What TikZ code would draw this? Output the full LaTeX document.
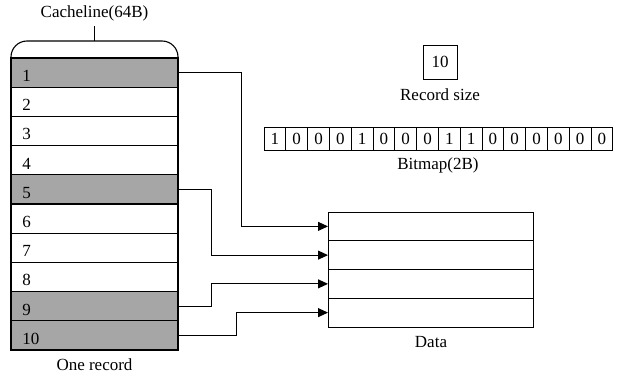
\documentclass[tikz,border=0pt]{standalone}
\usepackage{fontspec}
\setmainfont{Liberation Serif}
\usetikzlibrary{arrows.meta}
\definecolor{rowgray}{RGB}{166,166,166}
\begin{document}
\begin{tikzpicture}[x=1pt,y=-1pt,
  font=\fontsize{17}{20}\selectfont,
  line width=0.9pt,
  recrow/.style={draw, line width=1.1pt, minimum width=167pt, minimum height=29.2pt,
                 anchor=north west, inner sep=0pt, outer sep=0pt},
  datarow/.style={draw, minimum width=205pt, minimum height=28.75pt,
                  anchor=north west, inner sep=0pt, outer sep=0pt},
  bitcell/.style={draw, minimum width=21.8pt, minimum height=23pt,
                  anchor=north west, inner sep=0pt, outer sep=0pt},
  arr/.style={-{Triangle[length=10pt,width=9pt]}}]
\useasboundingbox (0,0) rectangle (622,377);

% one record: ten rows of the cache line
\foreach \i/\f in {1/rowgray,2/white,3/white,4/white,5/rowgray,
                   6/white,7/white,8/white,9/rowgray,10/rowgray}{
  \node[recrow, fill=\f] (r\i) at (11,{58+29.2*(\i-1)}) {};
  \node[anchor=base west, inner sep=0pt] (n\i) at (22,{58+29.2*(\i-0.5)+9}) {\i};
}

% rounded cap over the cache line and its label
\draw[line width=1.1pt, rounded corners=16pt] (r1.north west) -- (11,41) -- (178,41) -- (r1.north east);
\coordinate (captop) at (94.5,41);
\coordinate (tickend) at (94.5,26);
\draw (captop) -- (tickend);
\node (cl) at (94.5,13) {Cacheline(64B)};
\node (onerec) at (94.5,365) {One record};

% record size
\node[draw, minimum width=34pt, minimum height=34pt, inner sep=0pt] (rs) at (440,62) {10};
\node (rslabel) at (440,95) {Record size};

% bitmap
\foreach \b [count=\k] in {1,0,0,0,1,0,0,0,1,1,0,0,0,0,0,0}
  \node[bitcell] (b\k) at ({264+21.8*(\k-1)},127) {\b};
\node (bmlabel) at (438,165) {Bitmap(2B)};

% data area
\foreach \j in {1,...,4}
  \node[datarow] (d\j) at (328,{212+28.75*(\j-1)}) {};
\node (datalabel) at (431,342) {Data};

% pointers from the occupied rows into the data slots
\draw[arr] (r1.east) -- ++(63,0) |- (d1.west);
\draw[arr] (r5.east) -- ++(33,0) |- (d2.west);
\draw[arr] (r9.east) -- ++(33,0) |- (d3.west);
\draw[arr] (r10.east) -- ++(58,0) |- (d4.west);
\end{tikzpicture}
\end{document}
